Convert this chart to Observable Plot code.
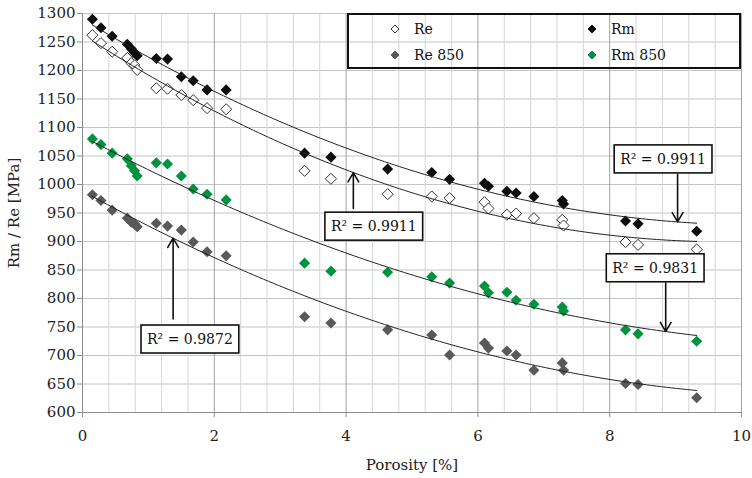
<!DOCTYPE html>
<html><head><meta charset="utf-8">
<script src="https://cdn.jsdelivr.net/npm/d3@7"></script>
<script src="https://cdn.jsdelivr.net/npm/@observablehq/plot@0.6"></script>
<style>
body{margin:0;background:#fff;}
#wrap{position:relative;width:752px;height:478px;font-family:"DejaVu Serif",serif;}
#legend{position:absolute;left:347px;top:13px;width:394px;height:56px;border:2px solid #111;box-sizing:border-box;font-size:14px;color:#111;}
.item{position:absolute;display:flex;align-items:center;height:20px;}
.item svg{margin-right:14px;}
</style></head><body><div id="wrap"></div>
<script>
// ---- data ----
const porosity = [0.15, 0.28, 0.45, 0.68, 0.74, 0.79, 0.83, 1.12, 1.29, 1.50, 1.68, 1.89, 2.18, 3.37, 3.77, 4.63, 5.30, 5.57, 6.10, 6.16, 6.44, 6.58, 6.85, 7.28, 7.30, 8.24, 8.43, 9.32];
const Re     = [1262, 1248, 1233, 1222, 1213, 1209, 1201, 1169, 1168, 1157, 1148, 1134, 1132, 1024, 1010, 983, 979, 976, 969, 958, 947, 949, 941, 938, 928, 899, 894, 886];
const Rm     = [1290, 1275, 1260, 1246, 1238, 1231, 1226, 1221, 1220, 1189, 1182, 1166, 1166, 1055, 1048, 1027, 1021, 1009, 1002, 997, 988, 985, 979, 972, 966, 936, 931, 918];
const Re850  = [982, 972, 955, 941, 934, 931, 926, 932, 927, 920, 899, 882, 875, 768, 757, 745, 736, 701, 722, 713, 708, 701, 674, 687, 674, 651, 649, 626];
const Rm850  = [1080, 1070, 1055, 1045, 1033, 1024, 1015, 1038, 1036, 1015, 992, 983, 973, 862, 848, 846, 838, 827, 822, 810, 811, 797, 790, 785, 778, 745, 738, 725];
const seriesNames = ["Re", "Rm", "Re 850", "Rm 850"];
const seriesValues = [Re, Rm, Re850, Rm850];
const seriesFill = ["#ffffff", "#0d0d0d", "#595959", "#00933f"];
const seriesStroke = ["#333333", "none", "none", "none"];
const xTicks = [0, 2, 4, 6, 8, 10];
const yTicks = [600, 650, 700, 750, 800, 850, 900, 950, 1000, 1050, 1100, 1150, 1200, 1250, 1300];
const r2Labels = ["R² = 0.9911", "R² = 0.9911", "R² = 0.9831", "R² = 0.9872"];
const r2Series = ["Re", "Rm", "Rm 850", "Re 850"];
const r2ArrowX = [4.11, 9.03, 8.85, 1.375];
const r2TailY  = [958, 1018, 827, 764];
const r2LabelX = [4.42, 8.81, 8.69, 1.63];
const r2LabelY = [926, 1044, 853, 728];

// ---- tidy rows ----
const rows = seriesNames.flatMap((s, i) => porosity.map((p, j) => ({series: s, x: p, y: seriesValues[i][j]})));

// quadratic least-squares trend (Excel polynomial order 2)
function quadFit(xs, ys) {
  let n = xs.length, s1=0,s2=0,s3=0,s4=0,t0=0,t1=0,t2=0;
  for (let i = 0; i < n; i++) {
    const x = xs[i], y = ys[i];
    s1 += x; s2 += x*x; s3 += x*x*x; s4 += x*x*x*x;
    t0 += y; t1 += x*y; t2 += x*x*y;
  }
  const M = [[n, s1, s2], [s1, s2, s3], [s2, s3, s4]], V = [t0, t1, t2];
  const det = m => m[0][0]*(m[1][1]*m[2][2]-m[1][2]*m[2][1]) - m[0][1]*(m[1][0]*m[2][2]-m[1][2]*m[2][0]) + m[0][2]*(m[1][0]*m[2][1]-m[1][1]*m[2][0]);
  const D = det(M);
  const coef = [0,1,2].map(k => det(M.map((r, i) => r.map((v, j) => j === k ? V[i] : v))) / D);
  return x => coef[0] + coef[1]*x + coef[2]*x*x;
}
const fits = {};
seriesNames.forEach((s, i) => fits[s] = quadFit(porosity, seriesValues[i]));
const x0 = d3.min(porosity), x1 = d3.max(porosity);
const trendRows = seriesNames.flatMap(s => d3.range(121).map(k => {
  const x = x0 + (x1 - x0) * k / 120; return {series: s, x, y: fits[s](x)};
}));
const ann = r2Labels.map((label, i) => ({label, series: r2Series[i], ax: r2ArrowX[i], tail: r2TailY[i], tip: fits[r2Series[i]](r2ArrowX[i]), lx: r2LabelX[i], ly: r2LabelY[i]}));

const minorX = d3.range(0, 26).map(i => +(i * 0.4).toFixed(2)).filter(v => v % 2 !== 0);

const chart = Plot.plot({
  width: 752, height: 478,
  marginLeft: 82, marginRight: 11, marginTop: 13, marginBottom: 66,
  style: {fontFamily: "DejaVu Serif, serif", fontSize: "15px", color: "#222", background: "white"},
  x: {domain: [0, 10]},
  y: {domain: [600, 1300]},
  marks: [
    Plot.gridY(yTicks, {stroke: "#c4c4c4", strokeOpacity: 1}),
    Plot.gridX(minorX, {stroke: "#d6d6d6", strokeOpacity: 1}),
    Plot.gridX(xTicks, {stroke: "#a3a3a3", strokeOpacity: 1}),
    Plot.ruleY([600], {stroke: "#8c8c8c"}),
    Plot.ruleX([0], {stroke: "#8c8c8c"}),
    Plot.axisX({ticks: xTicks, tickFormat: d => String(d), tickSize: 5, tickPadding: 13, stroke: "#8c8c8c", label: "Porosity [%]", labelAnchor: "center", labelArrow: "none", labelOffset: 57, fontSize: 15}),
    Plot.axisY({ticks: yTicks, tickFormat: d => String(d), tickSize: 5, tickPadding: 2, stroke: "#8c8c8c", label: "Rm / Re [MPa]", labelAnchor: "center", labelArrow: "none", labelOffset: 74, fontSize: 15}),
    ...seriesNames.map((s, i) => Plot.dot(rows.filter(d => d.series === s), {
      x: "x", y: "y", symbol: "diamond2", r: 5, fill: seriesFill[i], stroke: seriesStroke[i], strokeWidth: 1
    })),
    Plot.line(trendRows, {x: "x", y: "y", z: "series", stroke: "#222", strokeWidth: 1}),
    Plot.arrow(ann, {x1: "ax", y1: "tail", x2: "ax", y2: "tip", stroke: "#111", strokeWidth: 1.6, headLength: 10}),
    Plot.text(ann, {x: "lx", y: "ly", text: "label", fontSize: 14, fill: "#111"})
  ]
});
const wrap = document.getElementById("wrap");
wrap.appendChild(chart);

// boxes behind R² labels
chart.querySelectorAll("text").forEach(t => {
  if (!t.textContent.startsWith("R²")) return;
  const b = t.getBBox();
  const rect = document.createElementNS("http://www.w3.org/2000/svg", "rect");
  rect.setAttribute("x", b.x - 6); rect.setAttribute("y", b.y - 6);
  rect.setAttribute("width", b.width + 12); rect.setAttribute("height", b.height + 12);
  rect.setAttribute("fill", "white"); rect.setAttribute("stroke", "#111"); rect.setAttribute("stroke-width", 1.6);
  if (t.getAttribute("transform")) rect.setAttribute("transform", t.getAttribute("transform"));
  t.parentNode.insertBefore(rect, t);
});

// legend (inside the plot frame, as in the reference)
const legend = document.createElement("div");
legend.id = "legend";
const pos = [[41, 4], [238, 4], [41, 30], [238, 30]];
[0, 1, 2, 3].forEach((i, k) => {
  const it = document.createElement("div");
  it.className = "item";
  it.style.left = pos[k][0] + "px"; it.style.top = pos[k][1] + "px";
  const fill = seriesFill[i], stroke = seriesStroke[i] === "none" ? fill : seriesStroke[i];
  it.innerHTML = `<svg width="10" height="10" viewBox="-5 -5 10 10"><path d="M0,-4L4,0L0,4L-4,0Z" fill="${fill}" stroke="${stroke}" stroke-width="1"/></svg><span>${seriesNames[i]}</span>`;
  legend.appendChild(it);
});
wrap.appendChild(legend);
</script>
</body></html>
